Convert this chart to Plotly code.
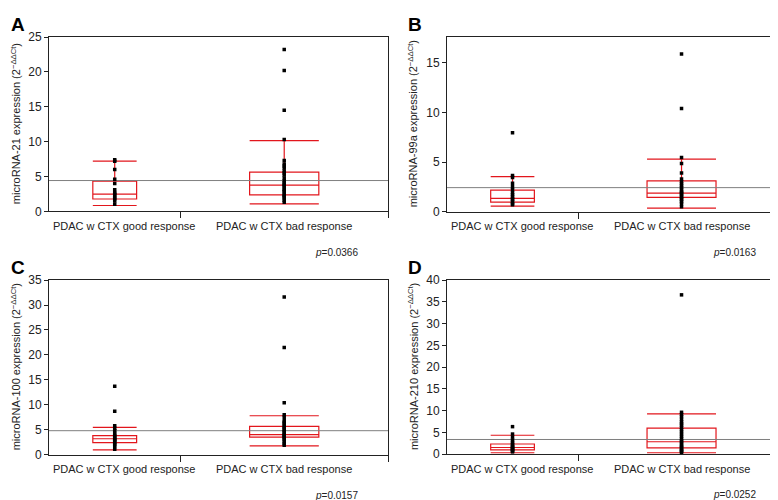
import plotly.graph_objects as go

# ---------------- data ----------------
categories = ["PDAC w CTX good response", "PDAC w CTX bad response"]
group_sizes = [19, 30]          # relative group widths (JMP-style proportional x axis)
panel_letters = ["A", "B", "C", "D"]
mirnas = ["microRNA-21", "microRNA-99a", "microRNA-100", "microRNA-210"]
p_values = ["0.0366", "0.0163", "0.0157", "0.0252"]
y_max = [25, 17.6, 35, 40]
grand_means = [4.42, 2.42, 4.8, 3.35]

# individual measurements
A_good = [7.4, 7.2, 6.0, 4.6, 4.0, 3.1, 2.7, 2.5, 2.3, 2.0, 1.8, 1.5, 1.0]
A_bad = [23.2, 20.2, 14.5, 10.3, 7.3, 6.8, 6.5, 6.2, 5.8, 5.5, 5.2, 4.8, 4.4, 4.1,
         3.9, 3.7, 3.5, 3.2, 3.0, 2.8, 2.5, 2.3, 2.1, 1.9, 1.6, 1.3]
B_good = [7.95, 3.65, 3.45, 2.85, 2.5, 2.2, 1.9, 1.7, 1.5, 1.3, 1.2, 1.0, 0.8, 0.7]
B_bad = [15.9, 10.4, 5.45, 4.85, 3.9, 3.3, 3.0, 2.8, 2.6, 2.4, 2.2, 2.0, 1.9, 1.8,
         1.6, 1.5, 1.3, 1.2, 1.0, 0.8, 0.5]
C_good = [13.7, 8.7, 5.8, 5.3, 4.8, 4.3, 3.9, 3.6, 3.3, 3.1, 2.9, 2.6, 2.3, 2.0, 1.6, 1.1]
C_bad = [31.6, 21.5, 10.4, 8.0, 7.5, 6.8, 6.5, 6.2, 5.8, 5.5, 5.2, 4.9, 4.6, 4.3,
         4.0, 3.8, 3.6, 3.3, 3.0, 2.6, 2.2, 1.9]
D_good = [6.3, 4.6, 3.9, 3.2, 2.7, 2.3, 2.0, 1.7, 1.5, 1.3, 1.1, 0.9, 0.7, 0.5]
D_bad = [36.6, 9.6, 9.1, 8.6, 8.0, 7.4, 7.0, 6.6, 6.1, 5.6, 5.1, 4.6, 4.1, 3.6,
         3.1, 2.8, 2.4, 2.0, 1.7, 1.4, 1.1, 0.8, 0.6, 0.4]

# box statistics [lower whisker, q1, median, q3, upper whisker]
A_box_good = [0.84, 1.77, 2.47, 4.32, 7.2]
A_box_bad = [1.07, 2.37, 3.77, 5.62, 10.14]
B_box_good = [0.56, 0.95, 1.34, 2.16, 3.53]
B_box_bad = [0.36, 1.44, 1.86, 3.1, 5.29]
C_box_good = [0.97, 2.4, 3.18, 3.83, 5.45]
C_box_bad = [1.75, 3.5, 4.03, 5.65, 7.8]
D_box_good = [0.3, 0.97, 1.5, 2.31, 4.32]
D_box_bad = [0.3, 1.42, 2.83, 5.96, 9.24]

values = [(A_good, A_bad), (B_good, B_bad), (C_good, C_bad), (D_good, D_bad)]
boxes = [(A_box_good, A_box_bad), (B_box_good, B_box_bad),
         (C_box_good, C_box_bad), (D_box_good, D_box_bad)]

# ---------------- layout geometry ----------------
W, H = 778, 500
FONT = "Liberation Sans, Arial, Helvetica, sans-serif"
RED = "#e2161c"
# plot areas in pixels: (left, right, top, bottom)
areas = [(41, 380, 22.7, 202), (439, 777, 22.7, 202.3),
         (41, 380, 272.7, 452.3), (439, 777, 272.7, 451.7)]

total = sum(group_sizes)
centers = [group_sizes[0] / 2, group_sizes[0] + group_sizes[1] / 2]

fig = go.Figure()
layout = dict(width=W, height=H, margin=dict(l=0, r=0, t=0, b=0),
              paper_bgcolor="white", plot_bgcolor="white", showlegend=False,
              font=dict(family=FONT, size=11, color="#222"), annotations=[])

for i in range(4):
    xa = "x" if i == 0 else f"x{i+1}"
    ya = "y" if i == 0 else f"y{i+1}"
    l, r, t, b = areas[i]

    # grand mean line
    fig.add_trace(go.Scatter(x=[0, total], y=[grand_means[i]] * 2, mode="lines",
                             line=dict(color="#7f7f7f", width=1), xaxis=xa, yaxis=ya,
                             hoverinfo="skip"))
    # boxes
    for g in range(2):
        st = boxes[i][g]
        fig.add_trace(go.Box(x=[centers[g]], lowerfence=[st[0]], q1=[st[1]], median=[st[2]],
                             q3=[st[3]], upperfence=[st[4]], width=group_sizes[g] / 3,
                             whiskerwidth=1, boxpoints=False,
                             line=dict(color=RED, width=1.2), fillcolor="rgba(0,0,0,0)",
                             xaxis=xa, yaxis=ya, name=categories[g]))
    # points
    for g in range(2):
        ys = values[i][g]
        fig.add_trace(go.Scatter(x=[centers[g]] * len(ys), y=ys, mode="markers",
                                 marker=dict(symbol="square", size=3.5, color="black",
                                             line=dict(width=0)),
                                 xaxis=xa, yaxis=ya, name=categories[g]))

    xkey = "xaxis" if i == 0 else f"xaxis{i+1}"
    ykey = "yaxis" if i == 0 else f"yaxis{i+1}"
    layout[xkey] = dict(domain=[l / W, r / W], range=[0, total], anchor=ya,
                        showgrid=False, zeroline=False, showline=True, mirror=True,
                        linecolor="#222", linewidth=1, ticks="outside", ticklen=6,
                        tickcolor="#222", tickvals=[group_sizes[0], total],
                        showticklabels=False, fixedrange=True)
    layout[ykey] = dict(domain=[1 - b / H, 1 - t / H], range=[0, y_max[i]], anchor=xa,
                        dtick=5, showgrid=False, zeroline=False, showline=True, mirror=True,
                        linecolor="#222", linewidth=1, ticks="outside", ticklen=4,
                        tickcolor="#222", tickfont=dict(size=12, color="#222"),
                        fixedrange=True)

    ann = layout["annotations"]
    # y title
    title_x = 8 if i % 2 == 0 else l - 34
    ann.append(dict(xref="paper", yref="paper", x=title_x / W, y=1 - (t + b) / 2 / H,
                    xanchor="center", yanchor="middle", textangle=-90, showarrow=False,
                    text=f"{mirnas[i]} expression (2<sup>−ΔΔCt</sup>)",
                    font=dict(size=11, color="#222")))
    # category labels
    lab_y = 1 - (b + 15) / H
    ann.append(dict(xref=xa, yref="paper", x=0, y=lab_y, xanchor="left", yanchor="middle",
                    xshift=2, showarrow=False, text=categories[0],
                    font=dict(size=11, color="#222")))
    ann.append(dict(xref=xa, yref="paper", x=centers[1], y=lab_y, xanchor="center",
                    yanchor="middle", showarrow=False, text=categories[1],
                    font=dict(size=11, color="#222")))
    # p value
    ann.append(dict(xref="paper", yref="paper", x=(l + 311) / W, y=1 - (b + 42) / H,
                    xanchor="right", yanchor="middle", showarrow=False,
                    text=f"<i>p</i>={p_values[i]}", font=dict(size=10, color="#222")))
    # panel letter
    ann.append(dict(xref="paper", yref="paper", x=(l - 41 + (1 if i % 2 == 0 else 0)) / W,
                    y=1 - (t - 22.7) / H, xanchor="left", yanchor="top", yshift=3,
                    showarrow=False, text=f"<b>{panel_letters[i]}</b>",
                    font=dict(size=19, color="black")))

fig.update_layout(**layout)
fig.write_html("out.html")
